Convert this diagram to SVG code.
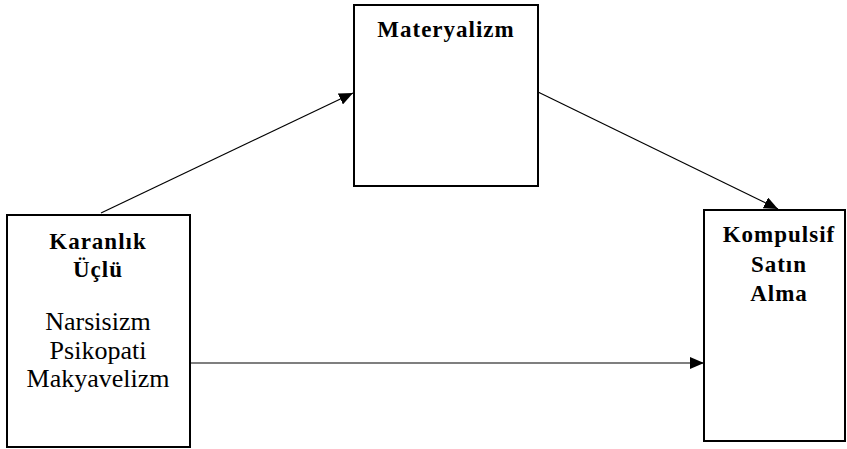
<svg xmlns="http://www.w3.org/2000/svg" width="847" height="449" viewBox="0 0 847 449">
<style>
.box{fill:#fff;stroke:#000;stroke-width:2}
.b{font-family:"Liberation Serif","Times New Roman",serif;font-weight:bold;font-size:23px;letter-spacing:1px;text-anchor:middle;fill:#000}
.r{font-family:"Liberation Serif","Times New Roman",serif;font-size:26px;text-anchor:middle;fill:#000}
.c{stroke:#000;stroke-width:1.2;fill:none}
</style>
<defs>
<marker id="ah" markerUnits="userSpaceOnUse" markerWidth="14" markerHeight="12" refX="14" refY="6" orient="auto">
<path d="M0,0 L14,6 L0,12 Z" fill="#000"/>
</marker>
</defs>
<rect width="847" height="449" fill="#fff"/>
<g id="connectors">
<line class="c" x1="101" y1="213" x2="353" y2="93" marker-end="url(#ah)"/>
<line class="c" x1="538" y1="92" x2="778" y2="209" marker-end="url(#ah)"/>
<line class="c" x1="190" y1="363" x2="704" y2="363" marker-end="url(#ah)"/>
</g>
<g id="materyalizm">
<rect class="box" x="354" y="5" width="184" height="181"/>
<text class="b" x="446" y="37">Materyalizm</text>
</g>
<g id="karanlik">
<rect class="box" x="7" y="215" width="183" height="232"/>
<text class="b" x="98" y="249">Karanlık</text>
<text class="b" x="98" y="277">Üçlü</text>
<text class="r" x="98" y="330">Narsisizm</text>
<text class="r" x="98" y="359">Psikopati</text>
<text class="r" x="98" y="387">Makyavelizm</text>
</g>
<g id="kompulsif">
<rect class="box" x="704" y="210" width="141" height="231"/>
<text class="b" x="779" y="242">Kompulsif</text>
<text class="b" x="779" y="272">Satın</text>
<text class="b" x="779" y="301">Alma</text>
</g>
</svg>
